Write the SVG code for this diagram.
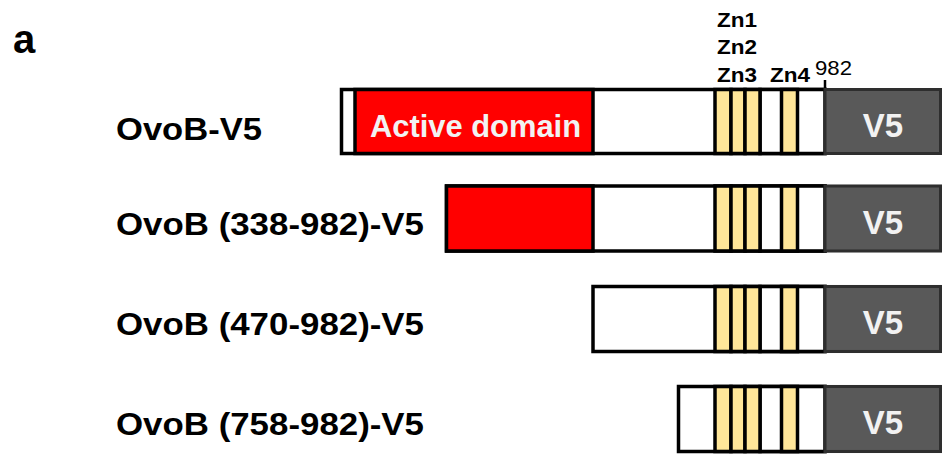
<svg xmlns="http://www.w3.org/2000/svg" width="943" height="456" viewBox="0 0 943 456">
  <style>
    .lbl { font-family: "Liberation Sans", Arial, sans-serif; font-weight: bold; font-size: 31px; fill: #000; }
    .zn { font-family: "Liberation Sans", Arial, sans-serif; font-weight: bold; font-size: 20px; fill: #000; }
    .num { font-family: "Liberation Sans", Arial, sans-serif; font-size: 21px; fill: #000; }
    .inner { font-family: "Liberation Sans", Arial, sans-serif; font-weight: bold; fill: #f2f2f2; }
    .seg { stroke: #000; stroke-width: 3.5; }
    .w { fill: #fff; }
    .r { fill: #ff0000; }
    .y { fill: #ffe699; }
    .tag { fill: #595959; stroke: #2e2e2e; stroke-width: 3; }
  </style>
  <defs>
    <!-- shared C-terminal part: zinc fingers Zn1-Zn4 and the V5 tag; y origin = bar top -->
    <g id="cterm">
      <rect class="seg w" x="760" y="0" width="65" height="64"/>
      <rect class="seg y" x="715" y="0" width="16" height="64"/>
      <rect class="seg y" x="731" y="0" width="14" height="64"/>
      <rect class="seg y" x="745" y="0" width="15" height="64"/>
      <rect class="seg y" x="781.5" y="0" width="16" height="64"/>
      <rect class="tag" x="825" y="0" width="115.5" height="64"/>
      <text class="inner" x="883" y="47" font-size="33" text-anchor="middle">V5</text>
    </g>
  </defs>

  <text x="13" y="53" font-family="Liberation Sans, Arial, sans-serif" font-weight="bold" font-size="40">a</text>

  <!-- domain annotations above the full-length construct -->
  <g id="annotations">
    <text class="zn" x="717" y="27" textLength="40" lengthAdjust="spacingAndGlyphs">Zn1</text>
    <text class="zn" x="717" y="54" textLength="40" lengthAdjust="spacingAndGlyphs">Zn2</text>
    <text class="zn" x="717" y="82" textLength="40" lengthAdjust="spacingAndGlyphs">Zn3</text>
    <text class="zn" x="770" y="82" textLength="40" lengthAdjust="spacingAndGlyphs">Zn4</text>
    <text class="num" x="815" y="75" textLength="37" lengthAdjust="spacingAndGlyphs">982</text>
  </g>
  <g id="connectors">
    <line x1="825" y1="80" x2="825" y2="89" stroke="#000" stroke-width="2.5"/>
  </g>

  <!-- full length -->
  <g id="ovob-full">
    <text class="lbl" x="116" y="140" textLength="146" lengthAdjust="spacingAndGlyphs">OvoB-V5</text>
    <rect class="seg w" x="341.5" y="89.5" width="483.5" height="64"/>
    <rect class="seg r" x="355" y="89.5" width="238" height="64"/>
    <text class="inner" x="370" y="137" font-size="31" textLength="211" lengthAdjust="spacingAndGlyphs">Active domain</text>
    <use href="#cterm" y="89.5"/>
  </g>

  <!-- 338-982 -->
  <g id="ovob-338">
    <text class="lbl" x="116" y="235" textLength="308" lengthAdjust="spacingAndGlyphs">OvoB (338-982)-V5</text>
    <rect class="seg w" x="446.5" y="186" width="378.5" height="65"/>
    <rect class="seg r" x="446.5" y="186" width="146.5" height="65"/>
    <use href="#cterm" transform="translate(0,186) scale(1,1.0156)"/>
  </g>

  <!-- 470-982 -->
  <g id="ovob-470">
    <text class="lbl" x="116" y="335" textLength="308" lengthAdjust="spacingAndGlyphs">OvoB (470-982)-V5</text>
    <rect class="seg w" x="593" y="286.5" width="232" height="65"/>
    <use href="#cterm" transform="translate(0,286.5) scale(1,1.0156)"/>
  </g>

  <!-- 758-982 -->
  <g id="ovob-758">
    <text class="lbl" x="116" y="435" textLength="308" lengthAdjust="spacingAndGlyphs">OvoB (758-982)-V5</text>
    <rect class="seg w" x="678.5" y="386.5" width="146.5" height="65"/>
    <use href="#cterm" transform="translate(0,386.5) scale(1,1.0156)"/>
  </g>
</svg>
